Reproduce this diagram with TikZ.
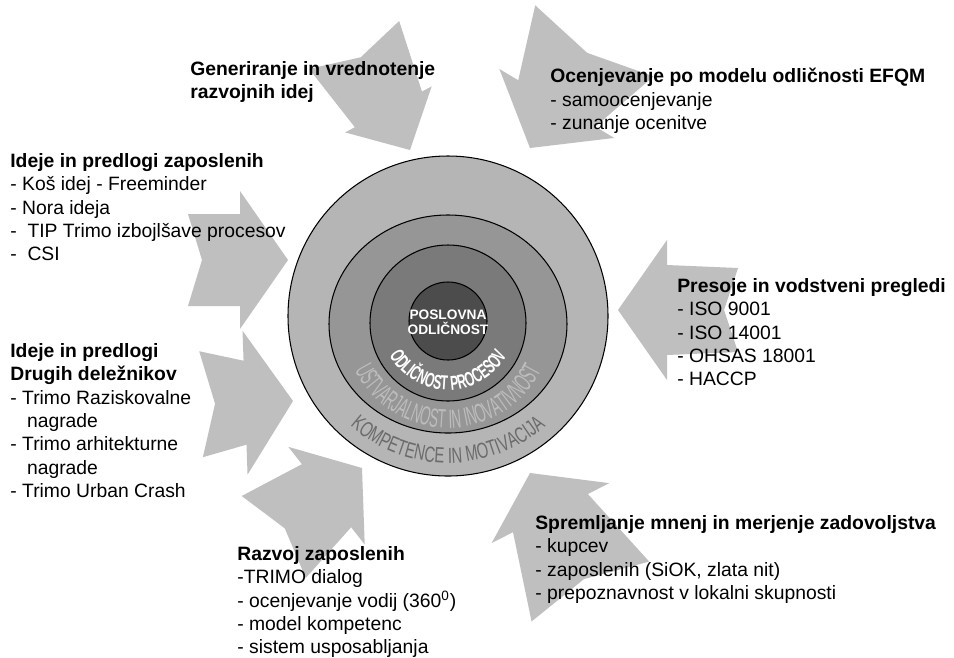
\documentclass[tikz,border=0pt]{standalone}
\usepackage{fontspec}
\setmainfont{Liberation Sans}
\newfontfamily\procfont[FakeStretch=0.6]{Liberation Sans}
\newfontfamily\ustfont[FakeStretch=0.5]{Liberation Sans}
\newfontfamily\kompfont[FakeStretch=0.67]{Liberation Sans}
\usetikzlibrary{decorations.text}
\definecolor{arrowgray}{gray}{0.75}
\definecolor{ringone}{gray}{0.71}
\definecolor{ringtwo}{gray}{0.59}
\definecolor{ringthree}{gray}{0.48}
\definecolor{corefill}{gray}{0.30}
\definecolor{usttext}{gray}{0.74}
\definecolor{komptext}{gray}{0.42}

\begin{document}
\begin{tikzpicture}[x=0.02cm, y=0.02cm,
        box/.style={anchor=north west, inner sep=0pt, align=left, font=\fontsize{11}{13.3}\selectfont},
        ring/.style={draw=black, line width=0.6pt}]
    \useasboundingbox (0,0) rectangle (954,-657);
    \fill[white] (0,0) rectangle (954,-657);

    \foreach \tx/\ty/\ang/\len/\hl/\hw/\bn/\bt in {410/150/-62/119/46/49/38/51, 530/148/239/125/52/67/45/69,
            618/310/180/120/49/70/45/42, 530/473/117/133/45/66/42/66, 362/468/38/112/45/62/40/52,
            293/401/2/92/48/72/42/53, 288/260/0/100/48/69/46/46} {
        \fill[arrowgray, shift={(\tx,-\ty)}, rotate=\ang] (0,0) -- (-\hl,\hw) -- (-\hl,\bn) -- (-\len,\bt)
            -- (-\len+14,0) -- (-\len,-\bt) -- (-\hl,-\bn) -- (-\hl,-\hw) -- cycle;
    }

    \coordinate (hub-1) at (448,-316);
    \coordinate (hub-2) at (448,-324);
    \coordinate (hub-3) at (448,-323);
    \coordinate (hub-4) at (448,-321);
    \draw[ring, fill=ringone] (hub-1) circle[radius=160];
    \draw[ring, fill=ringtwo] (hub-2) circle[x radius=119, y radius=109];
    \draw[ring, fill=ringthree] (hub-3) circle[radius=78];
    \draw[ring, fill=corefill] (hub-4) circle[radius=39];

    \path[decorate, decoration={text along path, text color=komptext, text align=center,
            text={|\kompfont\fontsize{12.5}{14}\selectfont|KOMPETENCE IN MOTIVACIJA}}]
        (hub-1) ++(215:147) arc[start angle=215, end angle=325, radius=147];
    \path[decorate, decoration={text along path, text color=usttext, text align=center,
            text={|\ustfont\fontsize{15}{17}\selectfont|USTVARJALNOST IN INOVATIVNOST}}]
        (hub-2) ++(195:104) arc[start angle=195, end angle=345, radius=104];
    \path[decorate, decoration={text along path, text color=white, text align=center,
            text={|\procfont\bfseries\fontsize{11.5}{13}\selectfont|ODLIČNOST PROCESOV}}]
        (hub-3) ++(200:67) arc[start angle=200, end angle=340, radius=67];
    \node[text=white, align=center, inner sep=0pt, font=\bfseries\fontsize{7.8}{8.7}\selectfont] (core) at (448,-322) {POSLOVNA\\ODLIČNOST};

    \node[box] (generiranje) at (190,-61) {\textbf{Generiranje in vrednotenje}\\\textbf{razvojnih idej}};
    \node[box] (efqm) at (550,-68) {\textbf{Ocenjevanje po modelu odličnosti EFQM}\\- samoocenjevanje\\- zunanje ocenitve};
    \node[box] (zaposleni) at (10,-153) {\textbf{Ideje in predlogi zaposlenih}\\- Koš idej - Freeminder\\- Nora ideja\\-~~TIP Trimo izbojlšave procesov\\-~~CSI};
    \node[box] (delezniki) at (10,-343) {\textbf{Ideje in predlogi}\\\textbf{Drugih deležnikov}\\- Trimo Raziskovalne\\\hspace*{9.5pt}nagrade\\- Trimo arhitekturne\\\hspace*{9.5pt}nagrade\\- Trimo Urban Crash};
    \node[box] (presoje) at (677,-278) {\textbf{Presoje in vodstveni pregledi}\\- ISO 9001\\- ISO 14001\\- OHSAS 18001\\- HACCP};
    \node[box] (mnenja) at (535,-515) {\textbf{Spremljanje mnenj in merjenje zadovoljstva}\\- kupcev\\- zaposlenih (SiOK, zlata nit)\\- prepoznavnost v lokalni skupnosti};
    \node[box] (razvoj) at (237,-546) {\textbf{Razvoj zaposlenih}\\-TRIMO dialog\\- ocenjevanje vodij (360\textsuperscript{0})\\- model kompetenc\\- sistem usposabljanja};
\end{tikzpicture}
\end{document}
